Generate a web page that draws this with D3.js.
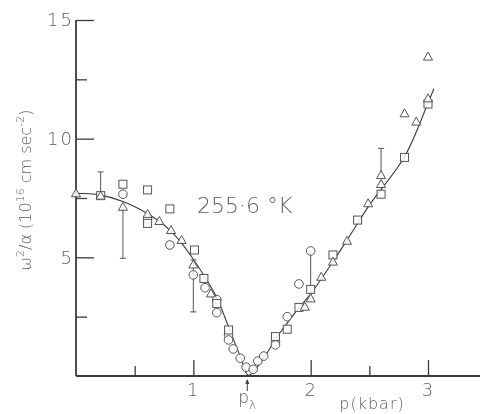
<!DOCTYPE html>
<html>
<head>
<meta charset="utf-8">
<script src="https://cdn.jsdelivr.net/npm/d3@7"></script>
<style>
body{margin:0;background:#fff;}
svg{will-change:transform;-webkit-font-smoothing:antialiased;}
</style>
</head>
<body>
<div id="chart"></div>
<script>
var W=480, H=414;

// data: [p (kbar), w^2/a]
var circles=[[0.40,7.66],[0.61,6.61],[0.80,5.52],[1.00,4.26],[1.10,3.72],[1.20,3.22],[1.20,2.67],
  [1.30,1.73],[1.30,1.52],[1.34,1.14],[1.40,0.75],[1.45,0.37],[1.51,0.28],[1.55,0.63],[1.60,0.84],
  [1.70,1.45],[1.70,1.31],[1.80,2.50],[1.90,3.88],[2.00,5.27]];
var squares=[[0.21,7.60],[0.40,8.08],[0.61,7.84],[0.61,6.43],[0.80,7.04],[1.01,5.31],[1.09,4.11],
  [1.20,3.05],[1.30,1.94],[1.70,1.66],[1.80,1.97],[1.90,2.89],[2.00,3.65],[2.19,5.10],[2.40,6.57],
  [2.60,7.66],[2.80,9.21],[3.00,11.46]];
var triangles=[[0.00,7.70],[0.21,7.60],[0.40,7.13],[0.61,6.83],[0.71,6.53],[0.81,6.15],[0.90,5.73],
  [1.00,4.70],[1.15,3.48],[1.95,2.92],[2.00,3.27],[2.09,4.18],[2.19,4.82],[2.31,5.70],[2.49,7.28],
  [2.60,8.09],[2.60,8.47],[2.80,11.07],[2.90,10.72],[3.00,11.70],[3.00,13.46]];
// error bars: p, from, to, cap at "from"?, cap at "to"?
var errorBars=[[0.21,7.63,8.60,false,true],[0.40,7.13,4.96,false,true],[1.00,4.89,2.70,true,true],
  [2.00,5.27,3.65,false,false],[2.60,8.47,9.59,false,true]];
// fitted curve
var curve=[[0,7.70],[0.2,7.63],[0.4,7.35],[0.6,6.87],[0.7,6.55],[0.8,6.15],[0.9,5.60],[1.0,4.92],
  [1.1,4.16],[1.2,3.30],[1.3,2.08],[1.4,0.82],[1.47,0.03],[1.6,0.76],[1.7,1.55],[1.8,2.23],[1.9,2.87],
  [2.0,3.46],[2.2,4.89],[2.31,5.73],[2.5,7.20],[2.8,9.24],[3.0,11.5],[3.05,12.1]];
var yMajor=[5,10,15], yMinor=[2.5,7.5,12.5];
var xMajor=[1,2,3], xMinor=[0.5,2.5];
var pLambda=1.46;

var INK="#3a3a3a", TXT="#5e5e5e", SYM="#555";

var svg=d3.select("#chart").append("svg").attr("width",W).attr("height",H);

var x=d3.scaleLinear().domain([0,3]).range([76,428]);
var y=d3.scaleLinear().domain([0,15]).range([376,20]);

//Ejes
var xa=svg.append("g").attr("transform","translate(0,"+y(0)+")")
  .call(d3.axisBottom(x).tickValues(xMajor).tickSize(-16).tickPadding(7).tickFormat(d3.format("d")));
var xm=svg.append("g").attr("transform","translate(0,"+y(0)+")")
  .call(d3.axisBottom(x).tickValues(xMinor).tickSize(-10).tickFormat(""));
var ya=svg.append("g").attr("transform","translate("+x(0)+",0)")
  .call(d3.axisLeft(y).tickValues(yMajor).tickSize(-18).tickPadding(4).tickFormat(d3.format("d")));
var ym=svg.append("g").attr("transform","translate("+x(0)+",0)")
  .call(d3.axisLeft(y).tickValues(yMinor).tickSize(-11).tickFormat(""));
[xa,xm,ya,ym].forEach(function(g){
  g.select(".domain").remove();
  g.selectAll(".tick line").attr("stroke",INK).attr("stroke-width",1.3);
  g.selectAll(".tick text").attr("fill",TXT).style("font-family","DejaVu Sans")
   .style("font-size","18px").style("font-weight","200").style("letter-spacing","2px");
});
ya.selectAll(".tick text").attr("x",-2);

svg.append("line").attr("x1",x(0)).attr("x2",x(0)).attr("y1",y(15)).attr("y2",y(0))
  .attr("stroke",INK).attr("stroke-width",1.8);
svg.append("line").attr("x1",x(0)).attr("x2",W).attr("y1",y(0)).attr("y2",y(0))
  .attr("stroke",INK).attr("stroke-width",2);

//Curva
svg.append("path").datum(curve)
  .attr("d",d3.line().x(function(d){return x(d[0])}).y(function(d){return y(d[1])}).curve(d3.curveCatmullRom))
  .attr("fill","none").attr("stroke",INK).attr("stroke-width",1.1);

//Barras de error
errorBars.forEach(function(e){
  svg.append("line").attr("x1",x(e[0])).attr("x2",x(e[0])).attr("y1",y(e[1])).attr("y2",y(e[2]))
    .attr("stroke",SYM).attr("stroke-width",1);
  if(e[3]) svg.append("line").attr("x1",x(e[0])-3).attr("x2",x(e[0])+3).attr("y1",y(e[1])).attr("y2",y(e[1]))
    .attr("stroke",SYM).attr("stroke-width",1);
  if(e[4]) svg.append("line").attr("x1",x(e[0])-3).attr("x2",x(e[0])+3).attr("y1",y(e[2])).attr("y2",y(e[2]))
    .attr("stroke",SYM).attr("stroke-width",1);
});

//Simbolos
svg.selectAll(".c").data(circles).enter().append("circle")
  .attr("cx",function(d){return x(d[0])}).attr("cy",function(d){return y(d[1])}).attr("r",4.3)
  .attr("fill","#fff").attr("fill-opacity",0.85).attr("stroke",SYM).attr("stroke-width",1);
svg.selectAll(".s").data(squares).enter().append("rect")
  .attr("x",function(d){return x(d[0])-4}).attr("y",function(d){return y(d[1])-4})
  .attr("width",8).attr("height",8)
  .attr("fill","#fff").attr("fill-opacity",0.85).attr("stroke",SYM).attr("stroke-width",1);
svg.selectAll(".t").data(triangles).enter().append("path")
  .attr("d",function(d){var cx=x(d[0]), cy=y(d[1]);
    return "M"+(cx-4.5)+","+(cy+3.5)+"L"+(cx+4.5)+","+(cy+3.5)+"L"+cx+","+(cy-4.5)+"Z";})
  .attr("fill","#fff").attr("fill-opacity",0.85).attr("stroke",SYM).attr("stroke-width",1);

//Textos
svg.append("text").attr("x",197).attr("y",213)
  .style("font-family","DejaVu Sans").style("font-size","22px").style("font-weight","200")
  .attr("fill",TXT).text("255·6 °K");

var yl=svg.append("text").attr("transform","translate(31,190) rotate(-90)")
  .style("text-anchor","middle").style("font-family","DejaVu Sans").style("font-size","16px")
  .style("font-weight","200").attr("fill",TXT);
yl.append("tspan").text("ω");
yl.append("tspan").attr("dy",-7).style("font-size","11px").text("2");
yl.append("tspan").attr("dy",7).text("/α (10");
yl.append("tspan").attr("dy",-7).style("font-size","11px").text("16");
yl.append("tspan").attr("dy",7).text(" cm sec");
yl.append("tspan").attr("dy",-7).style("font-size","11px").text("-2");
yl.append("tspan").attr("dy",7).text(")");

svg.append("text").attr("x",372).attr("y",409).style("text-anchor","middle")
  .style("font-family","DejaVu Sans").style("font-size","16px").style("font-weight","200")
  .style("letter-spacing","1px").attr("fill",TXT).text("p(kbar)");

// p lambda con flecha
var px=x(pLambda);
svg.append("line").attr("x1",px).attr("x2",px).attr("y1",380).attr("y2",391)
  .attr("stroke",INK).attr("stroke-width",1);
svg.append("path").attr("d","M"+(px-2)+",384L"+px+",379L"+(px+2)+",384Z").attr("fill",INK);
var pl=svg.append("text").attr("x",px-9).attr("y",403)
  .style("font-family","DejaVu Sans").style("font-size","17px").style("font-weight","200").attr("fill",TXT);
pl.append("tspan").text("p");
pl.append("tspan").attr("dy",6).style("font-size","12px").text("λ");
</script>
</body>
</html>
